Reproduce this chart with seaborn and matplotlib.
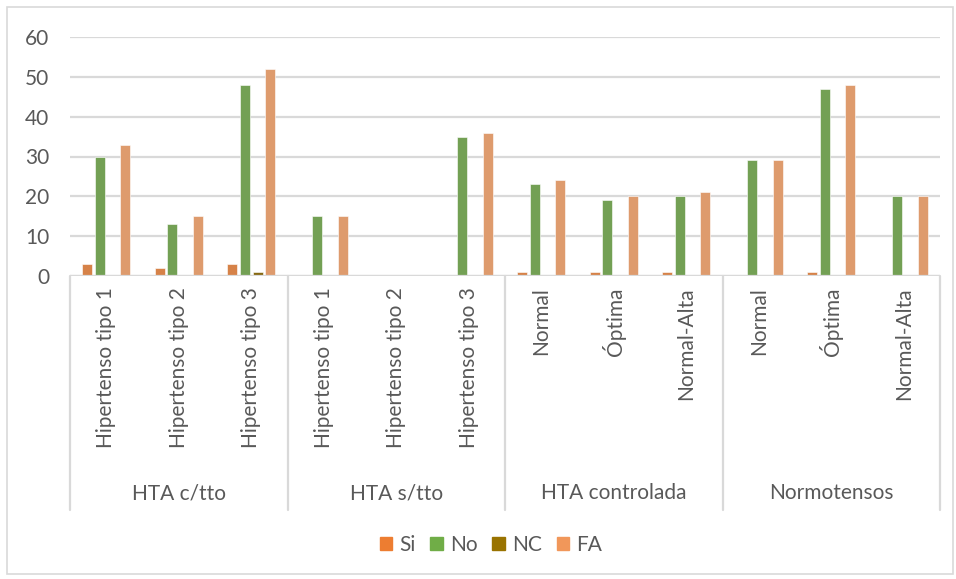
import matplotlib
matplotlib.use("Agg")
import matplotlib.pyplot as plt
import matplotlib.transforms as mtransforms
from matplotlib.patches import Rectangle
import pandas as pd
import seaborn as sns

# Data
groups = ["HTA c/tto", "HTA s/tto", "HTA controlada", "Normotensos"]
categories = [
    ["Hipertenso tipo 1", "Hipertenso tipo 2", "Hipertenso tipo 3"],
    ["Hipertenso tipo 1", "Hipertenso tipo 2", "Hipertenso tipo 3"],
    ["Normal", "Óptima", "Normal-Alta"],
    ["Normal", "Óptima", "Normal-Alta"],
]
series = ["Si", "No", "NC", "FA"]
si = [3, 2, 3, 0, 0, 0, 1, 1, 1, 0, 1, 0]
no = [30, 13, 48, 15, 0, 35, 23, 19, 20, 29, 47, 20]
nc = [0, 0, 1, 0, 0, 0, 0, 0, 0, 0, 0, 0]
fa = [33, 15, 52, 15, 0, 36, 24, 20, 21, 29, 48, 20]
y_ticks = [0, 10, 20, 30, 40, 50, 60]

colors = {"Si": "#ED7D31", "No": "#70AD47", "NC": "#997300", "FA": "#F1975A"}
text_color = "#595959"
line_color = "#D9D9D9"

# Long-form table, one unique key per category slot
keys, labels = [], []
for g, cats in zip(groups, categories):
    for c in cats:
        keys.append(f"{g}|{c}")
        labels.append(c)
rows = []
for name, vals in zip(series, [si, no, nc, fa]):
    for k, v in zip(keys, vals):
        rows.append({"cat": k, "serie": name, "valor": v})
df = pd.DataFrame(rows)

sns.set_theme(style="white")
plt.rcParams["font.family"] = ["Lato", "DejaVu Sans"]

W, H = 956, 579
fig = plt.figure(figsize=(W / 100, H / 100), dpi=100)
x0, x1, ytop, ybot = 70, 940, 37, 276
ax = fig.add_axes([x0 / W, (H - ybot) / H, (x1 - x0) / W, (ybot - ytop) / H])

sns.barplot(data=df, x="cat", y="valor", hue="serie", order=keys,
            hue_order=series, palette=colors, width=0.69, gap=0.2,
            edgecolor="white", linewidth=0.4, legend=False, ax=ax)

fs = 15
ax.set_xlim(-0.5, len(keys) - 0.5)
ax.set_ylim(0, 60)
ax.set_yticks(y_ticks)
ax.yaxis.grid(True, color=line_color, linewidth=1.6)
ax.set_axisbelow(True)
for s in ax.spines.values():
    s.set_visible(False)
ax.set_xlabel("")
ax.set_ylabel("")
ax.tick_params(axis="y", length=0, pad=15, labelsize=fs, labelcolor=text_color)
ax.set_xticks(range(len(keys)))
ax.set_xticklabels(labels, rotation=90, va="top", ha="center",
                   fontsize=fs, color=text_color)
ax.tick_params(axis="x", length=0, pad=8)

# Category axis line and group separators
ax.axhline(0, color=line_color, linewidth=1.6, zorder=3)
trans = mtransforms.blended_transform_factory(ax.transData, ax.transAxes)
sep_bottom = (ybot - 510) / (ybot - ytop)
for b in [-0.5, 2.5, 5.5, 8.5, 11.5]:
    ax.plot([b, b], [0, sep_bottom], transform=trans, color=line_color,
            linewidth=1.6, clip_on=False)
label_y = (ybot - 493) / (ybot - ytop)
for i, g in enumerate(groups):
    ax.text(i * 3 + 1, label_y, g, transform=trans, ha="center", va="center",
            fontsize=fs, color=text_color)

# Legend
handles = [Rectangle((0, 0), 1, 1, color=colors[s]) for s in series]
fig.legend(handles, series, loc="center", bbox_to_anchor=(491 / W, (H - 545) / H),
           ncol=4, frameon=False, fontsize=fs, labelcolor=text_color,
           handlelength=0.6, handleheight=0.6, handletextpad=0.35,
           columnspacing=0.7)

# Chart area border
fig.patches.append(Rectangle((7 / W, 5 / H), (W - 10) / W, (H - 12) / H,
                             transform=fig.transFigure, fill=False,
                             edgecolor=line_color, linewidth=1.2))

fig.savefig("out.png", dpi=100)
